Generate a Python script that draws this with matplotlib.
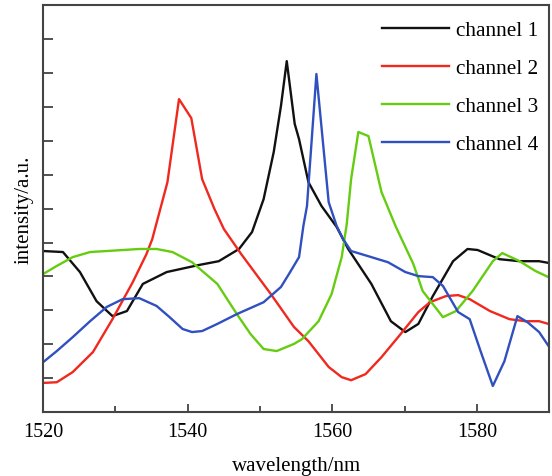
import matplotlib
matplotlib.use("Agg")
import matplotlib.pyplot as plt
from matplotlib.ticker import MultipleLocator, NullFormatter

plt.rcParams["font.family"] = ["Liberation Serif", "DejaVu Serif"]

# (wavelength nm, intensity a.u.)
ch1_wl = [1520, 1522.75, 1525.1, 1527.4, 1529.6, 1531.6, 1533.8, 1537.1, 1541.6, 1544.3,
          1547.1, 1548.9, 1550.5, 1551.9, 1552.9, 1553.7, 1554.8, 1555.4, 1556.7, 1558.5,
          1560.6, 1562.2, 1565.4, 1568.1, 1570.1, 1571.9, 1573.9, 1576.7, 1578.7, 1580.1,
          1583.1, 1585.9, 1588.6, 1589.9]
ch1_y = [4.75, 4.72, 4.13, 3.27, 2.83, 2.98, 3.78, 4.13, 4.34, 4.45,
         4.81, 5.31, 6.28, 7.67, 9.03, 10.35, 8.5, 8.05, 6.78, 6.08,
         5.46, 4.81, 3.78, 2.68, 2.36, 2.60, 3.42, 4.45, 4.81, 4.78,
         4.51, 4.45, 4.45, 4.40]

ch2_wl = [1520, 1521.9, 1524.1, 1526.9, 1529.6, 1532.4, 1534.3, 1535.1, 1537.2, 1538.8,
          1540.5, 1542.0, 1543.7, 1545.0, 1547.4, 1551.5, 1554.7, 1556.7, 1559.5, 1561.3,
          1562.6, 1564.6, 1566.8, 1569.1, 1571.9, 1573.5, 1575.7, 1577.4, 1579.0, 1581.8,
          1584.5, 1586.7, 1588.6, 1589.9]
ch2_y = [0.86, 0.88, 1.18, 1.77, 2.74, 3.83, 4.66, 5.10, 6.78, 9.23,
         8.67, 6.87, 5.99, 5.40, 4.66, 3.48, 2.51, 2.09, 1.33, 1.03,
         0.94, 1.12, 1.62, 2.21, 2.95, 3.24, 3.42, 3.45, 3.33, 2.98,
         2.74, 2.68, 2.68, 2.60]

ch3_wl = [1520, 1521.9, 1524.1, 1526.5, 1528.8, 1533.3, 1535.7, 1537.9, 1540.6, 1544.1,
          1546.8, 1548.7, 1550.5, 1552.3, 1554.7, 1555.8, 1558.1, 1559.9, 1561.3, 1562.0,
          1562.6, 1563.6, 1565.0, 1566.8, 1568.8, 1571.2, 1572.5, 1575.3, 1577.1, 1579.4,
          1582.2, 1583.5, 1585.9, 1588.1, 1589.9]
ch3_y = [4.07, 4.31, 4.57, 4.72, 4.75, 4.81, 4.81, 4.72, 4.42, 3.78,
         2.89, 2.30, 1.86, 1.80, 2.01, 2.15, 2.68, 3.48, 4.57, 5.55,
         6.87, 8.26, 8.14, 6.49, 5.46, 4.37, 3.57, 2.80, 2.98, 3.57,
         4.45, 4.69, 4.45, 4.16, 3.98]

ch4_wl = [1520, 1521.9, 1524.1, 1526.5, 1528.8, 1531.0, 1533.3, 1535.7, 1537.5, 1539.3,
          1540.6, 1542.0, 1544.1, 1546.8, 1550.5, 1552.9, 1554.0, 1555.4, 1556.0, 1556.5,
          1557.8, 1559.5, 1560.6, 1561.5, 1562.6, 1565.4, 1567.7, 1570.1, 1571.9, 1573.9,
          1575.3, 1577.4, 1579.0, 1580.5, 1582.2, 1583.8, 1585.6, 1587.0, 1588.6, 1589.9]
ch4_y = [1.47, 1.80, 2.21, 2.68, 3.10, 3.33, 3.36, 3.13, 2.80, 2.45,
         2.36, 2.39, 2.60, 2.89, 3.24, 3.69, 4.07, 4.57, 5.49, 6.08,
         9.97, 6.19, 5.49, 5.10, 4.75, 4.57, 4.42, 4.13, 4.01, 3.98,
         3.72, 2.95, 2.74, 1.80, 0.77, 1.50, 2.83, 2.65, 2.36, 1.95]

series = [
    ("channel 1", ch1_wl, ch1_y, "#111111"),
    ("channel 2", ch2_wl, ch2_y, "#F0281E"),
    ("channel 3", ch3_wl, ch3_y, "#66CC11"),
    ("channel 4", ch4_wl, ch4_y, "#3050C0"),
]

fig = plt.figure(figsize=(5.52, 4.77), dpi=100)
ax = fig.add_axes([0.078, 0.134, 0.917, 0.853])

for label, wl, y, color in series:
    ax.plot(wl, y, color=color, linewidth=1.7, label=label)

ax.set_xlim(1520, 1590)
ax.set_ylim(0, 12)
ax.xaxis.set_major_locator(MultipleLocator(20))
ax.xaxis.set_minor_locator(MultipleLocator(10))
ax.yaxis.set_major_locator(MultipleLocator(1))
ax.yaxis.set_major_formatter(NullFormatter())
ax.tick_params(axis="both", which="major", direction="in", length=6, width=1.2,
               color="#333333", labelsize=14.5, pad=7)
ax.tick_params(axis="x", which="minor", direction="in", length=4, width=1.2, color="#333333")
ax.tick_params(axis="y", length=7)

for sp in ax.spines.values():
    sp.set_linewidth(1.5)
    sp.set_color("#444444")

ax.set_xlabel("wavelength/nm", fontsize=15, labelpad=11)
ax.set_ylabel("intensity/a.u.", fontsize=15, labelpad=0)

ax.legend(loc="upper right", bbox_to_anchor=(1.008, 1.0), frameon=False, fontsize=15.3,
          handlelength=3.15, handletextpad=0.33, labelspacing=0.86, borderpad=0.2)

fig.savefig("out.png", dpi=100)
